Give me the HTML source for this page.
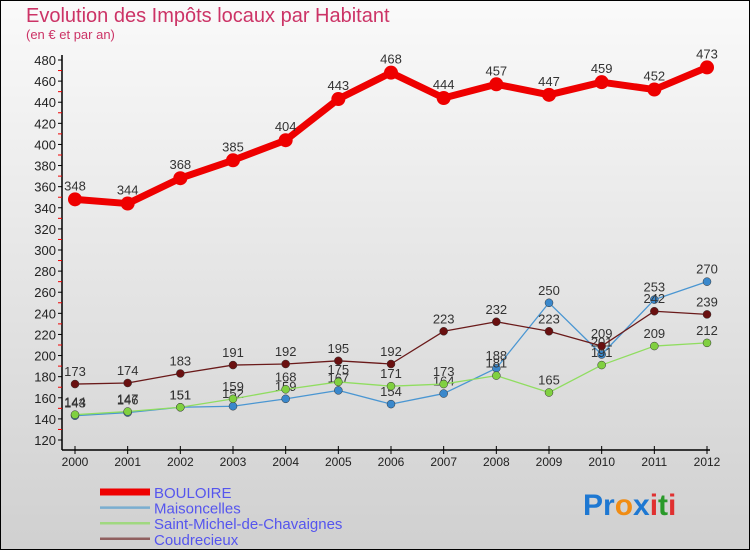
<!DOCTYPE html>
<html><head><meta charset="utf-8"><style>
body{margin:0;width:750px;height:550px;overflow:hidden;font-family:"Liberation Sans",sans-serif}
svg{display:block}
</style></head><body>
<svg id="chart" width="750" height="550" xmlns="http://www.w3.org/2000/svg">
<defs><linearGradient id="bg" x1="0" y1="0" x2="0" y2="1"><stop offset="0" stop-color="#fafafa"/><stop offset="1" stop-color="#d0d0d0"/></linearGradient></defs>
<rect x="0.5" y="0.5" width="749" height="549" fill="url(#bg)" stroke="#000"/>
<text x="26" y="22" font-size="20" fill="#cc3366">Evolution des Impôts locaux par Habitant</text>
<text x="26" y="39" font-size="13" fill="#cc3366">(en € et par an)</text>
<g id="axes"></g><g id="series"></g><g id="legend"></g>
<text x="583" y="515" font-size="30" font-weight="bold"><tspan fill="#1e78d2">Pr</tspan><tspan fill="#f08c14">o</tspan><tspan fill="#1e78d2">x</tspan><tspan fill="#e03030">i</tspan><tspan fill="#2a9a2a">t</tspan><tspan fill="#e03030">i</tspan></text>
</svg>
<script>
const years=["2000","2001","2002","2003","2004","2005","2006","2007","2008","2009","2010","2011","2012"];
const bouloire=[348,344,368,385,404,443,468,444,457,447,459,452,473];
const maisoncelles=[143,146,151,152,159,167,154,164,188,250,201,253,270];
const saintMichel=[144,147,151,159,168,175,171,173,181,165,191,209,212];
const coudrecieux=[173,174,183,191,192,195,192,223,232,223,209,242,239];
const yTicks=[120,140,160,180,200,220,240,260,280,300,320,340,360,380,400,420,440,460,480];
const NS="http://www.w3.org/2000/svg";
const x=i=>75+i*(707-75)/(years.length-1);
const y=v=>440-(v-120)*(440-60)/(480-120);
function mk(tag,attrs,parent,text){const e=document.createElementNS(NS,tag);for(const k in attrs)e.setAttribute(k,attrs[k]);if(text!==undefined)e.textContent=text;parent.appendChild(e);return e;}
const axes=document.getElementById('axes');
let a=mk('line',{x1:62,y1:55,x2:62,y2:450,stroke:'#000','stroke-width':1.5},axes);


a=mk('line',{x1:62,y1:450,x2:710,y2:450,stroke:'#000','stroke-width':1.5},axes);


yTicks.forEach(t=>{
  mk('line',{x1:58,y1:y(t),x2:62,y2:y(t),stroke:'#000'},axes);
  if(t<480)mk('line',{x1:58,y1:y(t+10),x2:62,y2:y(t+10),stroke:'#e00'},axes);
  const l=mk('text',{x:56,y:y(t)+5,'font-size':13,fill:'#222','text-anchor':'end'},axes,t);
  
  
});
years.forEach((yr,i)=>{
  mk('line',{x1:x(i),y1:446,x2:x(i),y2:454,stroke:'#000'},axes);
  const l=mk('text',{x:x(i),y:466,'font-size':12,fill:'#222','text-anchor':'middle'},axes,yr);
  
  
});
const series=[
 {name:'Maisoncelles',data:maisoncelles,color:'#4a96d2',w:1.3,r:4,dot:'#3a88cc'},
 {name:'Saint-Michel-de-Chavaignes',data:saintMichel,color:'#90dd60',w:1.3,r:4,dot:'#80d040'},
 {name:'Coudrecieux',data:coudrecieux,color:'#6a1a1a',w:1.3,r:4,dot:'#6a1010'},
 {name:'BOULOIRE',data:bouloire,color:'#ee0000',w:7,r:7,dot:'#ee0000'}
];
const sg=document.getElementById('series');
series.forEach(s=>{
  const g=mk('g',{},sg);
  
  
  const p=mk('polyline',{points:s.data.map((v,i)=>x(i)+','+y(v)).join(' '),fill:'none',stroke:s.color,'stroke-width':s.w,'stroke-linejoin':'round'},g);
  
  
  s.data.forEach((v,i)=>{
    const c=mk('circle',{cx:x(i),cy:y(v),r:s.r,fill:s.dot,stroke:s.w>2?'none':'#333','stroke-width':0.5},g);
    
    
    const t=mk('text',{x:x(i),y:y(v)-(s.w>2?9:8),'font-size':13,fill:'#333','text-anchor':'middle'},g,v);
    
    
  });
});
const lg=document.getElementById('legend');
const order=[series[3],series[0],series[1],series[2]];
const legColors=['#ee0000','#7aaed0','#a0d880','#906060'];
order.forEach((s,i)=>{
  const yy=492+i*15.6;
  const g=mk('g',{},lg);
  
  
  mk('line',{x1:100,y1:yy,x2:150,y2:yy,stroke:legColors[i],'stroke-width':i===0?7:2.5},g);
  mk('text',{x:154,y:yy+6,'font-size':15,fill:'#5555ee'},g,s.name);
});
</script>
</body></html>
